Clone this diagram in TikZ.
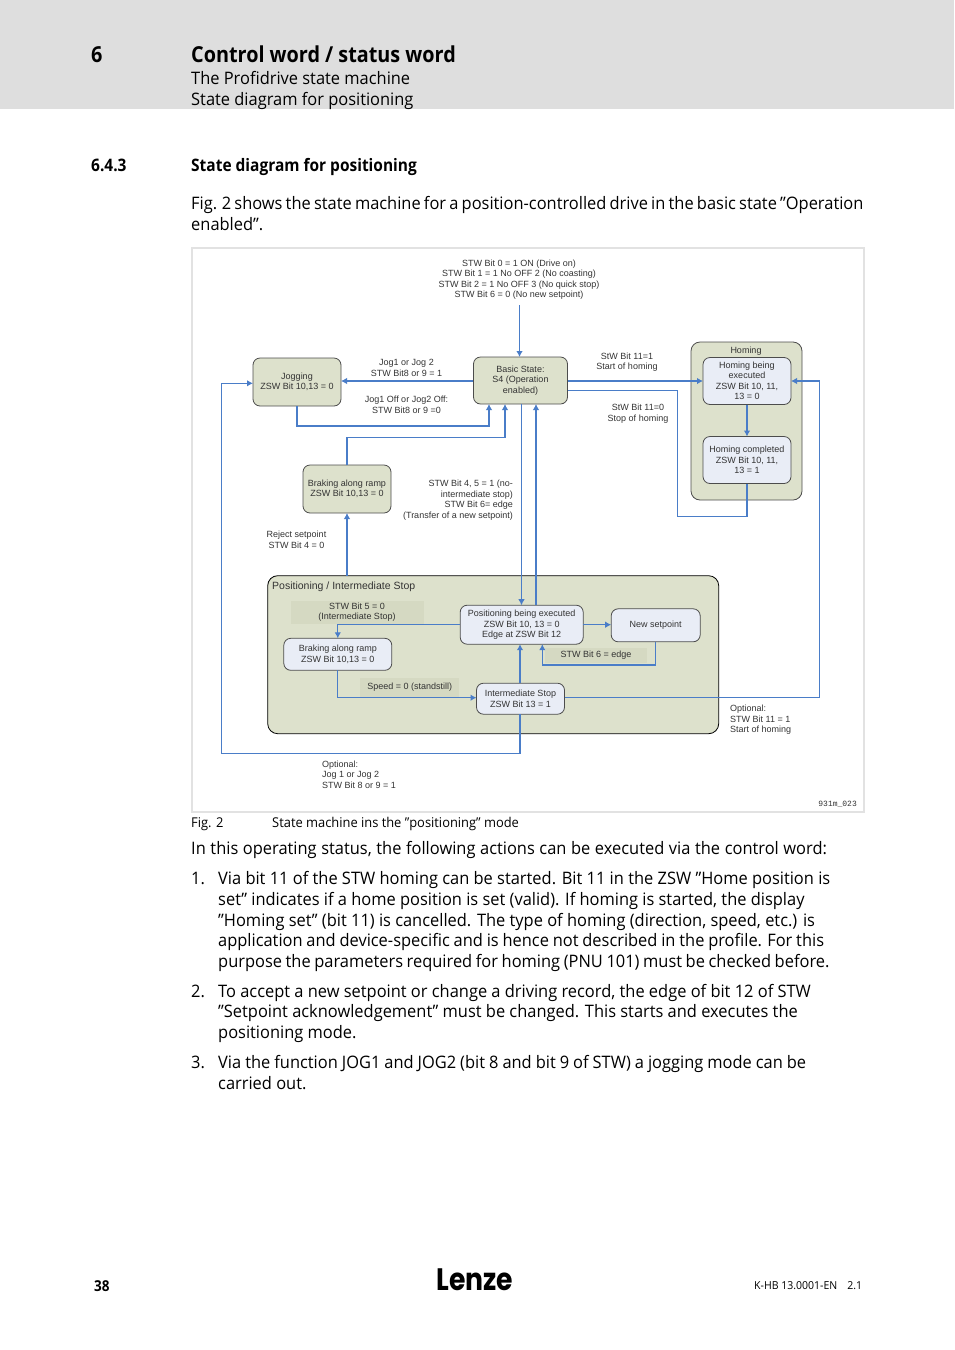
\documentclass[tikz,border=0pt]{standalone}
\usepackage{fontspec}
\setmainfont{Open Sans}[FakeStretch=0.955,BoldFeatures={FakeStretch=0.9}]
\newfontfamily\diagfont{Liberation Sans}
\newfontfamily\codefont{Liberation Mono}
\newfontfamily\logofont{Poppins}[BoldFeatures={FakeStretch=0.86}]
\usetikzlibrary{arrows.meta}
\usetikzlibrary{positioning}
\definecolor{HeadGray}{HTML}{DEDEDE}
\definecolor{FrameGray}{HTML}{E2E2E2}
\definecolor{StateGreen}{HTML}{DDE1CC}
\definecolor{NoteGreen}{HTML}{D5D9C2}
\definecolor{StateBlue}{HTML}{E9EDF6}
\definecolor{LineBlue}{HTML}{4A7DC8}
\definecolor{TextGray}{HTML}{333333}
\tikzset{
  bodyline/.style={anchor=base west,inner sep=0pt,font=\fontsize{17.2}{20}\selectfont},
  headbold/.style={anchor=base west,inner sep=0pt,font=\fontsize{17.2}{20}\selectfont\bfseries},
  state/.style={draw=black!70,line width=.8pt,rounded corners=7pt,outer sep=0pt,inner sep=0pt,
    align=center,text=TextGray,font=\diagfont\fontsize{9}{10.5}\selectfont},
  greenstate/.style={state,fill=StateGreen},
  bluestate/.style={state,fill=StateBlue},
  note/.style={fill=NoteGreen,outer sep=0pt,inner sep=0pt,align=center,text=TextGray,
    font=\diagfont\fontsize{9}{10.5}\selectfont},
  label/.style={inner sep=0pt,text=TextGray,font=\diagfont\fontsize{9}{10.5}\selectfont},
  link/.style={draw=LineBlue,line width=1.1pt,>={Latex[length=6pt,width=6.5pt]}},
}
\begin{document}
\begin{tikzpicture}[x=1pt,y=-1pt]
  \useasboundingbox (0,0) rectangle (954,1350);

  % page head
  \fill[HeadGray] (0,0) rectangle (954,109);
  \node[headbold,font=\fontsize{22}{24}\selectfont\bfseries] (chapnum) at (91,62) {6};
  \node[headbold,font=\fontsize{22}{24}\selectfont\bfseries] (chaptitle) at (191,62) {Control word / status word};
  \node[bodyline] (headone) at (191,84) {The Profidrive state machine};
  \node[bodyline] (headtwo) at (191,105) {State diagram for positioning};

  \node[headbold] (secnum) at (91,171) {6.4.3};
  \node[headbold] (sectitle) at (191,171) {State diagram for positioning};
  \node[bodyline] (introone) at (191,209) {\spaceskip=3.2pt Fig. 2 shows the state machine for a position-controlled drive in the basic state ”Operation};
  \node[bodyline] (introtwo) at (191,230) {enabled”.};

  % figure frame
  \draw[FrameGray,line width=2pt] (192,248) rectangle (864,812);

  % outer states
  \node[greenstate,rounded corners=9pt,minimum width=111pt,minimum height=158pt] (homing) at (746.5,421) {};
  \node[greenstate,draw=black,rounded corners=10pt,minimum width=451pt,minimum height=158pt] (posbox) at (493.2,654.7) {};

  % states
  \node[greenstate,minimum width=88pt,minimum height=48pt] (jogging) at (297,382) {Jogging\\ZSW Bit 10,13 = 0};
  \node[greenstate,minimum width=94pt,minimum height=47pt] (basic) at (520.5,380.5) {Basic State:\\S4 (Operation\\enabled)};
  \node[greenstate,minimum width=88pt,minimum height=48pt] (brakeone) at (347,489) {Braking along ramp\\ZSW Bit 10,13 = 0};
  \node[bluestate,minimum width=88pt,minimum height=47pt] (homerun) at (747,381) {Homing being\\executed\\ZSW Bit 10, 11,\\13 = 0};
  \node[bluestate,minimum width=88pt,minimum height=47pt] (homedone) at (747,460) {Homing completed\\ZSW Bit 10, 11,\\13 = 1};

  % labels inside the positioning box
  \node[note,minimum width=133pt,minimum height=23pt] (stopnote) at (357,612.3) {STW Bit 5 = 0\\(Intermediate Stop)};
  \node[note,minimum width=99pt,minimum height=19pt] (speednote) at (409.7,687) {Speed = 0 (standstill)};
  \node[note,minimum width=102pt,minimum height=15pt] (edgenote) at (596,655.4) {STW Bit 6 = edge};

  \node[bluestate,minimum width=123pt,minimum height=39pt] (posrun) at (521.7,624.7) {Positioning being executed\\ZSW Bit 10, 13 = 0\\Edge at ZSW Bit 12};
  \node[bluestate,minimum width=89pt,minimum height=33pt] (newset) at (655.7,625.3) {New setpoint};
  \node[bluestate,minimum width=108pt,minimum height=32pt] (braketwo) at (337.8,654.3) {Braking along ramp\\ZSW Bit 10,13 = 0};
  \node[bluestate,minimum width=88pt,minimum height=31pt] (interstop) at (520.5,698.7) {Intermediate Stop\\ZSW Bit 13 = 1};

  % free labels
  \node[label,align=center] (toptext) at (519,279.5) {STW Bit 0 = 1 ON (Drive on)\\STW Bit 1 = 1 No OFF 2 (No coasting)\\STW Bit 2 = 1 No OFF 3 (No quick stop)\\STW Bit 6 = 0 (No new setpoint)};
  \node[label,align=center] (jogon) at (406.5,368) {Jog1 or Jog 2\\STW Bit8 or 9 = 1};
  \node[label,align=center] (jogoff) at (406.5,405) {Jog1 Off or Jog2 Off:\\STW Bit8 or 9 =0};
  \node[label,align=right,anchor=east] (transfer) at (513,500) {STW Bit 4, 5 = 1 (no-\\intermediate stop)\\STW Bit 6= edge\\(Transfer of a new setpoint)};
  \node[label,align=center] (reject) at (296.5,540) {Reject setpoint\\STW Bit 4 = 0};
  \node[label,align=center] (homestart) at (627,362) {StW Bit 11=1\\Start of homing};
  \node[label,align=center] (homestop) at (638,413.5) {StW Bit 11=0\\Stop of homing};
  \node[label] (hometitle) at (746,351.5) {Homing};
  \node[label,anchor=west,font=\diagfont\fontsize{10.5}{12}\selectfont] (postitle) at (272,586.5) {Positioning / Intermediate Stop};
  \node[label,align=left,anchor=west] (optjog) at (322,774.5) {Optional:\\Jog 1 or Jog 2\\STW Bit 8 or 9 = 1};
  \node[label,align=left,anchor=west] (opthome) at (730,720) {Optional:\\STW Bit 11 = 1\\Start of homing};
  \node[label,anchor=east,font=\codefont\fontsize{8}{9}\selectfont] (figcode) at (857,804.5) {931m\_023};

  \coordinate (topin) at (519.5,305);

  % connectors
  \draw[link,->] (topin) -- (519.5,0 |- basic.north);
  \draw[link,->] (473,381) -- (jogging.east |- 0,381);
  \draw[link,->] (jogging.south) |- (489,426) -- (489,0 |- basic.south);
  \draw[link,->] (brakeone.north) |- (505,437.7) -- (505,0 |- basic.south);
  \draw[link,->] (347,0 |- posbox.north) -- (brakeone.south);
  \draw[link,->] (521.5,0 |- basic.south) -- (521.5,0 |- posrun.north);
  \draw[link,->] (536,0 |- posrun.north) -- (536,0 |- basic.south);
  \draw[link,->] (basic.east |- 0,381) -- (homerun.west);
  \draw[link] (homedone.south) |- (677.7,516.7) |- (basic.east |- 0,390.7);
  \draw[link,->] (homerun.south) -- (homedone.north);
  \draw[link,->] (interstop.east |- 0,697.7) -| (819.7,381) -- (homerun.east);
  \draw[link,->] (posrun.west) -| (braketwo.north);
  \draw[link,->] (braketwo.south) |- (interstop.west |- 0,697.7);
  \draw[link,->] (posrun.east) -- (newset.west |- posrun.east);
  \draw[link,->] (newset.south) |- (542.3,665) -- (542.3,0 |- posrun.south);
  \draw[link,->] (520,0 |- interstop.north) -- (520,0 |- posrun.south);
  \draw[link,->] (520,0 |- interstop.south) |- (221.3,753.7) |- (jogging.west |- 0,383.3);

  % text below the figure
  \node[bodyline,font=\fontsize{13.5}{16}\selectfont] (figlabel) at (191,827) {Fig. 2};
  \node[bodyline,font=\fontsize{13.5}{16}\selectfont] (figcaption) at (272,827) {State machine ins the ”positioning” mode};
  \node[bodyline] (lead) at (191,854) {\spaceskip=4.6pt In this operating status, the following actions can be executed via the control word:};

  \node[bodyline] (numone) at (191,884) {1.};
  \node[bodyline] (oneA) at (218,884) {Via bit 11 of the STW homing can be started. Bit 11 in the ZSW ”Home position is};
  \node[bodyline] (oneB) at (218,905) {set” indicates if a home position is set (valid). If homing is started, the display};
  \node[bodyline] (oneC) at (218,926) {”Homing set” (bit 11) is cancelled. The type of homing (direction, speed, etc.) is};
  \node[bodyline] (oneD) at (218,946) {\spaceskip=3.8pt application and device-specific and is hence not described in the profile. For this};
  \node[bodyline] (oneE) at (218,967) {\spaceskip=3.6pt purpose the parameters required for homing (PNU 101) must be checked before.};

  \node[bodyline] (numtwo) at (191,997) {2.};
  \node[bodyline] (twoA) at (218,997) {To accept a new setpoint or change a driving record, the edge of bit 12 of STW};
  \node[bodyline] (twoB) at (218,1017) {”Setpoint acknowledgement” must be changed. This starts and executes the};
  \node[bodyline] (twoC) at (218,1038) {positioning mode.};

  \node[bodyline] (numthree) at (191,1068) {3.};
  \node[bodyline] (threeA) at (218,1068) {\spaceskip=4pt Via the function JOG1 and JOG2 (bit 8 and bit 9 of STW) a jogging mode can be};
  \node[bodyline] (threeB) at (218,1089) {carried out.};

  % page foot
  \node[headbold,font=\fontsize{15}{17}\selectfont\bfseries] (pagenum) at (94,1291) {38};
  \node[anchor=base,inner sep=0pt,font=\logofont\bfseries\fontsize{31}{34}\selectfont] (logo) at (475,1290) {Lenze};
  \node[bodyline,font=\fontsize{11}{13}\selectfont] (docref) at (754,1289) {K-HB 13.0001-EN\hspace{10pt}2.1};
\end{tikzpicture}
\end{document}
